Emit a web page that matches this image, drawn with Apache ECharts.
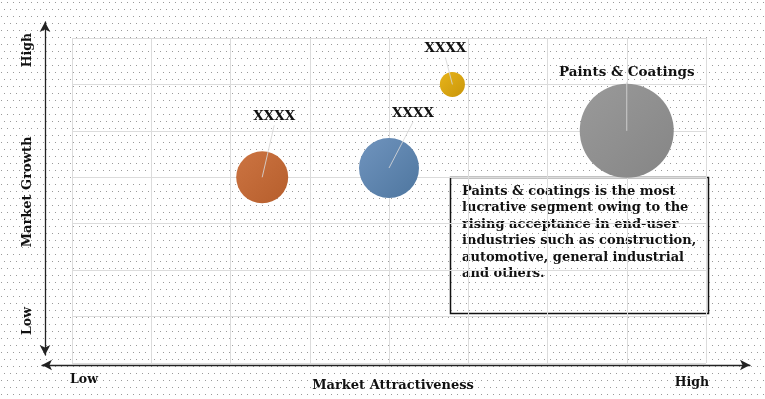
<!DOCTYPE html>
<html><head><meta charset="utf-8">
<script src="https://cdn.jsdelivr.net/npm/echarts@6/dist/echarts.min.js"></script>
<style>html,body{margin:0;padding:0;background:#fff}#c{width:765px;height:399px}</style>
</head><body><div id="c"></div>
<script>
// ---- data ----
var names = ['XXXX', 'XXXX', 'XXXX', 'Paints & Coatings'];
var attractiveness = [2.4, 4.0, 4.8, 7.0];   // x (0..8)
var growth = [4.0, 4.2, 6.0, 5.0];           // y (0..7)
var marketSize = [26, 30, 12.5, 47];         // bubble size
var xTickLabels = ['Low', 'High'];
var yTickLabels = ['Low', 'High'];
var xAxisName = 'Market Attractiveness';
var yAxisName = 'Market Growth';
var note = 'Paints & coatings is the most\nlucrative segment owing to the\nrising acceptance in end-user\nindustries such as construction,\nautomotive, general industrial\nand others.';

// ---- styles ----
var colors = [
  ['#CC7442', '#B65E2C'],
  ['#7094BE', '#4E769F'],
  ['#E8B41A', '#C9960A'],
  ['#9A9A9A', '#858585']
];
var labelOffsets = [[12, -61], [24, -55], [-7, -36], [0, -58]];
var FONT = '"DejaVu Serif", "Liberation Serif", serif';

var cv = document.createElement('canvas');
cv.width = 6; cv.height = 14;
var cx = cv.getContext('2d');
cx.fillStyle = '#fff'; cx.fillRect(0, 0, 6, 14);
cx.fillStyle = '#9a9a9a';
cx.fillRect(1, 2, 1, 1);
cx.fillRect(4, 9, 1, 1);

var data = names.map(function (n, i) {
  return [attractiveness[i], growth[i], marketSize[i], n, i];
});

var chart = echarts.init(document.getElementById('c'), null, {renderer: 'canvas'});
chart.setOption({
  animation: false,
  backgroundColor: '#fff',
  grid: [
    {left: 72, right: 59, top: 38, bottom: 36},
    {left: 42, right: 15, top: 22, bottom: 34},
    {left: 45, right: 15, top: 22, bottom: 44}
  ],
  xAxis: [
    {gridIndex: 0, type: 'value', min: 0, max: 8, interval: 1,
     axisLine: {show: false}, axisTick: {show: false}, axisLabel: {show: false},
     splitLine: {show: true, lineStyle: {color: '#dcdcdc', width: 1}}},
    {gridIndex: 1, type: 'value', min: 0, max: 1, position: 'bottom',
     axisLine: {show: true, symbol: ['arrow', 'arrow'], symbolSize: [8, 10], lineStyle: {color: '#222', width: 1.3}},
     axisTick: {show: false}, axisLabel: {show: false}, splitLine: {show: false}},
    {gridIndex: 2, type: 'value', min: 0, max: 1, show: false}
  ],
  yAxis: [
    {gridIndex: 0, type: 'value', min: 0, max: 7, interval: 1,
     axisLine: {show: false}, axisTick: {show: false}, axisLabel: {show: false},
     splitLine: {show: true, lineStyle: {color: '#dcdcdc', width: 1}}},
    {gridIndex: 1, type: 'value', min: 0, max: 1, show: false},
    {gridIndex: 2, type: 'value', min: 0, max: 1, position: 'left',
     axisLine: {show: true, symbol: ['arrow', 'arrow'], symbolSize: [8, 10], lineStyle: {color: '#222', width: 1.3}},
     axisTick: {show: false}, axisLabel: {show: false}, splitLine: {show: false}}
  ],
  graphic: [
    {type: 'rect', z: -100, silent: true, shape: {x: 0, y: 0, width: 765, height: 399},
     style: {fill: {image: cv, repeat: 'repeat'}}},
    {type: 'text', x: 84, y: 380, style: {text: xTickLabels[0], font: 'bold 12.5px ' + FONT, fill: '#111', align: 'center', verticalAlign: 'middle'}},
    {type: 'text', x: 692, y: 383, style: {text: xTickLabels[1], font: 'bold 12.5px ' + FONT, fill: '#111', align: 'center', verticalAlign: 'middle'}},
    {type: 'text', x: 393, y: 386, style: {text: xAxisName, font: 'bold 13px ' + FONT, fill: '#111', align: 'center', verticalAlign: 'middle'}},
    {type: 'text', x: 28, y: 321, rotation: Math.PI / 2, style: {text: yTickLabels[0], font: 'bold 12.5px ' + FONT, fill: '#111', align: 'center', verticalAlign: 'middle'}},
    {type: 'text', x: 28, y: 50, rotation: Math.PI / 2, style: {text: yTickLabels[1], font: 'bold 12.5px ' + FONT, fill: '#111', align: 'center', verticalAlign: 'middle'}},
    {type: 'text', x: 28, y: 192, rotation: Math.PI / 2, style: {text: yAxisName, font: 'bold 13px ' + FONT, fill: '#111', align: 'center', verticalAlign: 'middle'}},
    {type: 'rect', shape: {x: 450.5, y: 177.5, width: 258, height: 136},
     style: {fill: 'rgba(255,255,255,0)', stroke: '#111', lineWidth: 1.5}},
    {type: 'text', x: 462, y: 183, style: {text: note, font: 'bold 13px ' + FONT, fill: '#111', lineHeight: 16.5}}
  ],
  series: [{
    type: 'custom',
    xAxisIndex: 0, yAxisIndex: 0,
    coordinateSystem: 'cartesian2d',
    data: data,
    renderItem: function (params, api) {
      var i = api.value(4);
      var p = api.coord([api.value(0), api.value(1)]);
      var r = api.value(2);
      var off = labelOffsets[i];
      var c = colors[i];
      var lx = p[0] + off[0], ly = p[1] + off[1];
      return {
        type: 'group',
        children: [
          {type: 'circle', shape: {cx: p[0], cy: p[1], r: r},
           style: {fill: new echarts.graphic.LinearGradient(0, 0, 1, 1, [{offset: 0, color: c[0]}, {offset: 1, color: c[1]}])}},
          {type: 'line', shape: {x1: p[0], y1: p[1], x2: lx, y2: ly + 9},
           style: {stroke: 'rgba(215,215,215,0.85)', lineWidth: 1}},
          {type: 'text', x: lx, y: ly,
           style: {text: names[i], font: 'bold 13.5px ' + FONT, fill: '#111', align: 'center', verticalAlign: 'middle'}}
        ]
      };
    }
  }]
});
</script></body></html>
